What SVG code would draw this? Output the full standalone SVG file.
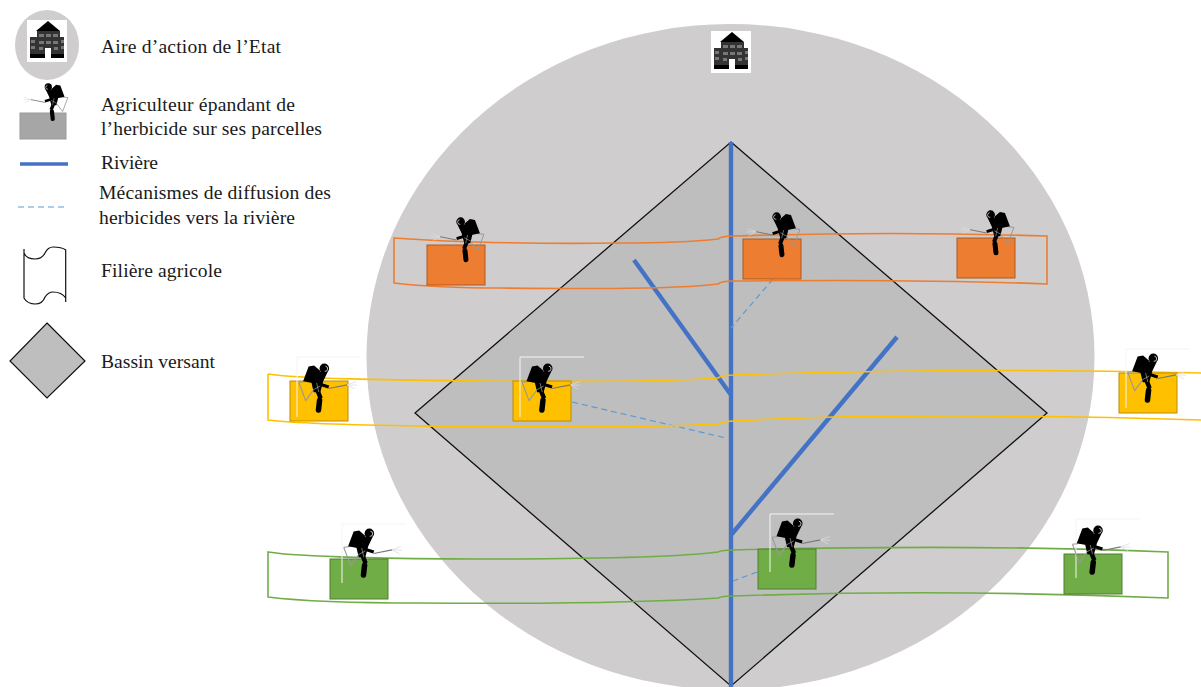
<svg xmlns="http://www.w3.org/2000/svg" width="1201" height="687" viewBox="0 0 1201 687">
<style>
text{font-family:"Liberation Serif","Times New Roman",serif;font-size:19.6px;fill:#1a1a1a}
.river{stroke:#4472c4;stroke-width:4.4;fill:none}
.diff{stroke:#5b9bd5;stroke-width:1.2;stroke-dasharray:6 4;fill:none}
.or{fill:#ed7d31;stroke:#ae5a21;stroke-width:1}
.ye{fill:#ffc000;stroke:#bc8c00;stroke-width:1}
.gr{fill:#70ad47;stroke:#507e32;stroke-width:1}
.rib{fill:none;stroke-width:1.6}
.trace{fill:none;stroke:#f4f4f4;stroke-width:1}
</style>
<defs>
<g id="farmer">
<g fill="none" stroke="#dcdcdc" stroke-width="2"><path d="M39-25L14-34M39-25L12-24M39-25L18-14"/></g>
<path d="M39-25L89-15" stroke="#777" stroke-width="3" fill="none"/>
<path d="M171-32L152 18L124-20M171-32L145-35" stroke="#999" stroke-width="3" fill="none"/>
<path d="M114-65L129-78L144-75L159-35L134-30L109-35Z" fill="#000"/>
<path d="M92-60L118-62L136-30L130-5L112-5L104-35Z" fill="#000"/>
<circle cx="101" cy="-70" r="13" fill="#000"/>
<path d="M98-76a7 7 0 0 0 2 14" stroke="#fff" stroke-width="2" fill="none"/>
<path d="M89-19L124-30" stroke="#000" stroke-width="9" fill="none"/>
<path d="M124-20L111 12" stroke="#000" stroke-width="12" fill="none"/>
<path d="M114 17L117 44" stroke="#000" stroke-width="15" stroke-linecap="round" fill="none"/>
<path d="M112-22L134-10M122-30L116-5" stroke="#ccc" stroke-width="1.5" fill="none"/>
</g>
<g id="building">
<rect width="40" height="42" fill="#fff"/>
<path d="M21 1L33 11H9Z" fill="#000"/>
<rect x="10" y="11" width="23" height="27" fill="#333"/>
<rect x="3" y="17" width="34" height="21" fill="#333"/>
<g fill="#777"><rect x="4" y="20" width="4" height="3"/><rect x="4" y="26" width="4" height="3"/><rect x="12" y="14" width="5" height="3"/><rect x="19" y="14" width="5" height="3"/><rect x="26" y="14" width="5" height="3"/><rect x="12" y="21" width="5" height="3"/><rect x="19" y="21" width="5" height="3"/><rect x="26" y="21" width="5" height="3"/><rect x="12" y="27" width="4" height="3"/><rect x="27" y="27" width="4" height="3"/><rect x="34" y="20" width="3" height="3"/><rect x="34" y="26" width="3" height="3"/></g>
<rect x="3" y="34" width="34" height="4" fill="#000"/>
<rect x="18" y="28" width="6" height="11" fill="#fff"/>
</g>
</defs>
<g id="state-area"><ellipse cx="730.5" cy="357" rx="364" ry="333" fill="#cfcdcd"/></g>
<g id="watershed"><path d="M731 142L1047 413L731 686L415 413Z" fill="#bebebe" stroke="#111" stroke-width="1.3"/></g>
<g id="state-building"><use href="#building" x="711" y="31"/></g>
<g id="connectors">
<path class="river" d="M731 142V687M634 260L731 395M897 337L731 535"/>
<path class="diff" d="M773 279L731 328M572 402L726 438M757 572L733 581"/>
</g>
<g id="filiere-orange"><path class="rib" stroke="#ed7d31" d="M394 238C460 243 560 244 620 243C670 243 700 241 718 239Q722 236 733 236C830 233 950 233 1047 236L1047 284C950 280 830 280 733 281Q722 281 718 284C680 289 580 289 500 288C460 288 420 286 394 283Z"/></g>
<g id="filiere-yellow"><path class="rib" stroke="#ffc000" d="M268 374C300 379 400 380 480 381C590 382 680 381 718 378Q722 375 733 375C850 371 1000 368 1201 373M1201 420C1050 415 850 414 733 421Q722 422 718 424C640 428 540 427 420 426C350 425 300 424 268 420V374"/></g>
<g id="filiere-green"><path class="rib" stroke="#70ad47" d="M268 552C300 557 400 559 480 559C590 559 680 557 718 552Q722 550 733 550C850 547 1000 545 1168 552L1168 598C1000 591 850 592 733 596Q722 596 718 598C640 603 540 604 420 603C350 603 300 601 268 597Z"/></g>
<g id="farm-o1"><rect class="or" x="427" y="245" width="58" height="40"/><use href="#farmer" transform="translate(427 245) scale(.333)"/></g>
<g id="farm-o2"><rect class="or" x="743" y="239" width="58" height="40"/><use href="#farmer" transform="translate(743 240) scale(.333)"/></g>
<g id="farm-o3"><rect class="or" x="957" y="238" width="58" height="40"/><use href="#farmer" transform="translate(957 238) scale(.333)"/></g>
<g id="farm-y1"><rect class="ye" x="290" y="381" width="58" height="40"/><path class="trace" d="M297 417V357H360"/><use href="#farmer" transform="translate(361.3 394) scale(-.366 .366)"/></g>
<g id="farm-y2"><rect class="ye" x="513" y="381" width="58" height="40"/><path class="trace" d="M520 417V357H584"/><use href="#farmer" transform="translate(584.7 394) scale(-.366 .366)"/></g>
<g id="farm-y3"><rect class="ye" x="1119" y="373" width="58" height="40"/><path class="trace" d="M1126 408V349H1190"/><use href="#farmer" transform="translate(1190.3 384) scale(-.366 .366)"/></g>
<g id="farm-g1"><rect class="gr" x="330" y="559" width="58" height="40"/><path class="trace" d="M342 583V524H406"/><use href="#farmer" transform="translate(406.3 559) scale(-.366 .366)"/></g>
<g id="farm-g2"><rect class="gr" x="758" y="549" width="58" height="40"/><path class="trace" d="M770 572V514H834"/><use href="#farmer" transform="translate(834.7 549) scale(-.366 .366)"/></g>
<g id="farm-g3"><rect class="gr" x="1064" y="554" width="58" height="40"/><path class="trace" d="M1076 578V519H1140"/><use href="#farmer" transform="translate(1135 556) scale(-.366 .366)"/></g>
<g id="legend">
<ellipse cx="47" cy="45" rx="32" ry="35" fill="#cfcdcd"/>
<use href="#building" transform="translate(27 20)"/>
<rect x="20" y="113" width="46" height="26" fill="#a6a6a6" stroke="#9a9a9a"/>
<use href="#farmer" transform="translate(20 106.6) scale(.28)"/>
<path d="M20 164H68" stroke="#4472c4" stroke-width="3.5"/>
<path class="diff" d="M18 207H66"/>
<path d="M24 249V253C26 258 31 259 35 259C42 259 44 255 45 253C47 249 49 247 53 247C58 247 63 248 65.7 250V302M24 253V298C26 302 31 304 35 304C42 304 44 300 45 297C47 294 49 292 53 292C58 292 63 294 65.7 298" fill="none" stroke="#111" stroke-width="1.2"/>
<path d="M47 323L85 361L47 398L10 361Z" fill="#bebebe" stroke="#111" stroke-width="1.2"/>
<text x="101" y="53" textLength="180">Aire d’action de l’Etat</text>
<text x="101" y="111" textLength="194">Agriculteur épandant de</text>
<text x="101" y="135" textLength="221">l’herbicide sur ses parcelles</text>
<text x="101" y="169" textLength="57">Rivière</text>
<text x="99" y="199" textLength="232">Mécanismes de diffusion des</text>
<text x="99" y="224" textLength="196">herbicides vers la rivière</text>
<text x="101" y="277" textLength="121">Filière agricole</text>
<text x="101" y="368" textLength="114">Bassin versant</text>
</g>
</svg>
